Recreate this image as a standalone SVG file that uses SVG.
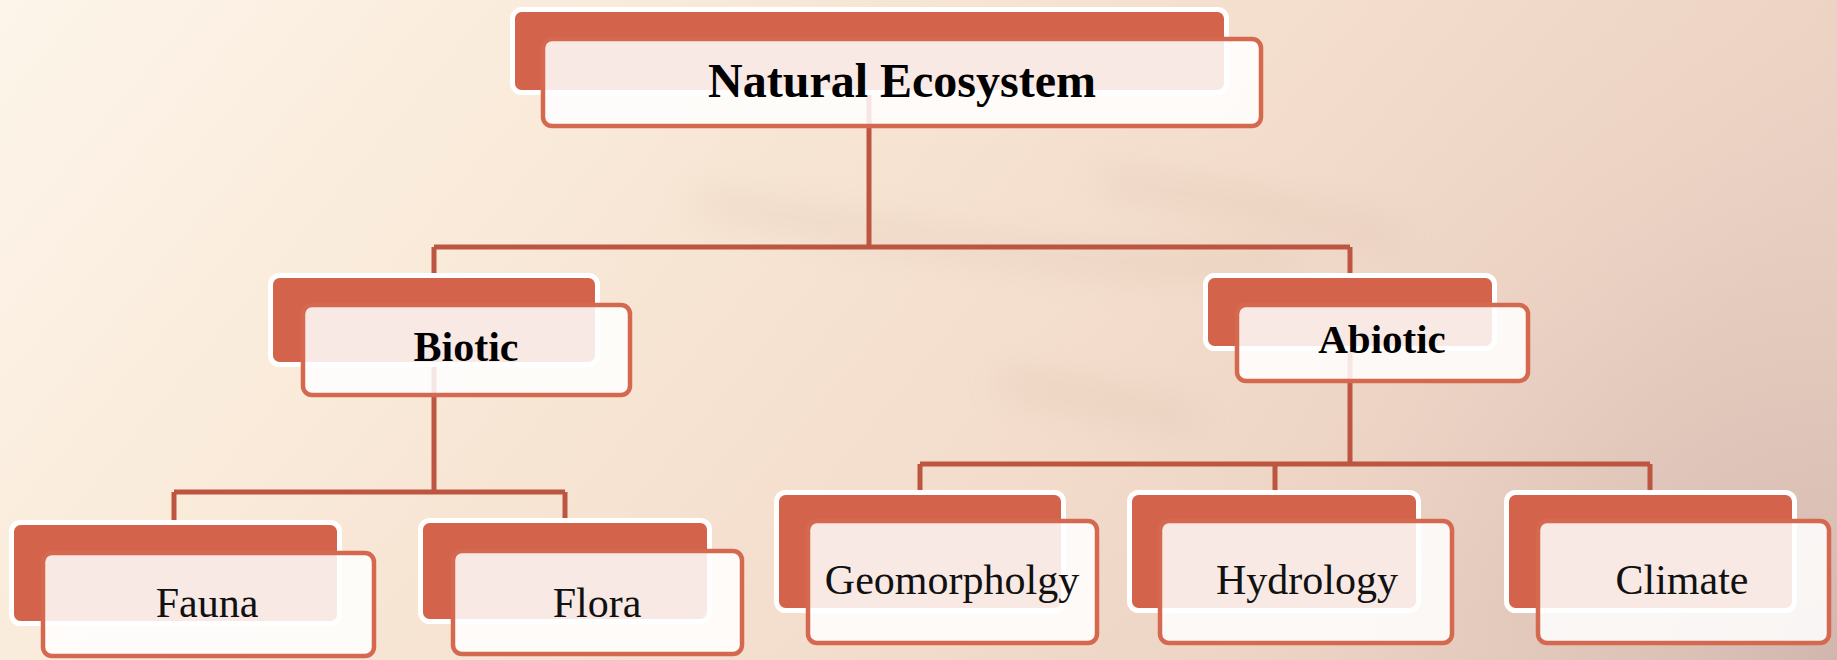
<svg xmlns="http://www.w3.org/2000/svg" width="1837" height="660" viewBox="0 0 1837 660">
<defs>
<linearGradient id="bg" x1="0" y1="0" x2="1" y2="0.3">
<stop offset="0" stop-color="#fdf5ea"/>
<stop offset="0.35" stop-color="#f9e9d8"/>
<stop offset="0.7" stop-color="#f3dccb"/>
<stop offset="1" stop-color="#ead0c2"/>
</linearGradient>
<radialGradient id="corner" cx="1837" cy="660" r="700" gradientUnits="userSpaceOnUse">
<stop offset="0" stop-color="#cdb3ab" stop-opacity="0.9"/>
<stop offset="0.5" stop-color="#dcc2b6" stop-opacity="0.4"/>
<stop offset="1" stop-color="#f0d8c8" stop-opacity="0"/>
</radialGradient>
<filter id="blur" x="-20%" y="-20%" width="140%" height="140%"><feGaussianBlur stdDeviation="18"/></filter>
<style>
.back{fill:#d3644b;stroke:#ffffff;stroke-width:5}
.front{fill:#ffffff;fill-opacity:0.86;stroke:#d5694f;stroke-width:4.5}
.conn{fill:none;stroke:#bd5641;stroke-width:5}
.bold{font-family:"Liberation Serif",serif;font-weight:bold;fill:#000;text-anchor:middle}
.reg{font-family:"Liberation Serif",serif;fill:#111;text-anchor:middle;font-size:42px}
</style>
</defs>
<rect width="1837" height="660" fill="url(#bg)"/>
<rect width="1837" height="660" fill="url(#corner)"/>
<g filter="url(#blur)" opacity="0.35" fill="none" stroke="#c9aa98" stroke-width="14">
<path d="M700 200 Q 850 230 1000 250 T 1300 260"/>
<path d="M1100 180 Q 1250 200 1400 240"/>
<path d="M1000 380 Q 1100 400 1200 420"/>
</g>
<g id="connectors">
<path class="conn" d="M869 90 V247 M434 247 H1350 M434 247 V280 M1350 247 V280"/>
<path class="conn" d="M434 360 V492 M174 492 H565 M174 492 V524 M565 492 V522"/>
<path class="conn" d="M1350 345 V464 M920 464 H1650 M920 464 V494 M1275 464 V494 M1650 464 V494"/>
</g>
<g id="node-natural-ecosystem">
<rect class="back" x="512.5" y="9.5" width="714" height="83" rx="9"/>
<rect class="front" x="543" y="39" width="718" height="87" rx="9"/>
<text class="bold" x="902" y="97" font-size="48">Natural Ecosystem</text>
</g>
<g id="node-biotic">
<rect class="back" x="270.5" y="275.5" width="327" height="89" rx="9"/>
<rect class="front" x="303" y="305" width="327" height="90" rx="9"/>
<text class="bold" x="466" y="361" font-size="42">Biotic</text>
</g>
<g id="node-abiotic">
<rect class="back" x="1205.5" y="275.5" width="289" height="73" rx="9"/>
<rect class="front" x="1237" y="305" width="291" height="76" rx="9"/>
<text class="bold" x="1382" y="353" font-size="41">Abiotic</text>
</g>
<g id="node-fauna">
<rect class="back" x="11.5" y="522.5" width="328" height="101" rx="9"/>
<rect class="front" x="43" y="553" width="331" height="103" rx="9"/>
<text class="reg" x="207" y="617">Fauna</text>
</g>
<g id="node-flora">
<rect class="back" x="420.5" y="520.5" width="289" height="101" rx="9"/>
<rect class="front" x="453" y="551" width="289" height="103" rx="9"/>
<text class="reg" x="597" y="617">Flora</text>
</g>
<g id="node-geomorphology">
<rect class="back" x="776.5" y="492.5" width="287" height="118" rx="9"/>
<rect class="front" x="808" y="521" width="289" height="122" rx="9"/>
<text class="reg" x="952" y="594">Geomorpholgy</text>
</g>
<g id="node-hydrology">
<rect class="back" x="1129.5" y="492.5" width="289" height="118" rx="9"/>
<rect class="front" x="1160" y="521" width="292" height="122" rx="9"/>
<text class="reg" x="1307" y="594">Hydrology</text>
</g>
<g id="node-climate">
<rect class="back" x="1506.5" y="492.5" width="288" height="118" rx="9"/>
<rect class="front" x="1538" y="521" width="291" height="122" rx="9"/>
<text class="reg" x="1682" y="594">Climate</text>
</g>
</svg>
